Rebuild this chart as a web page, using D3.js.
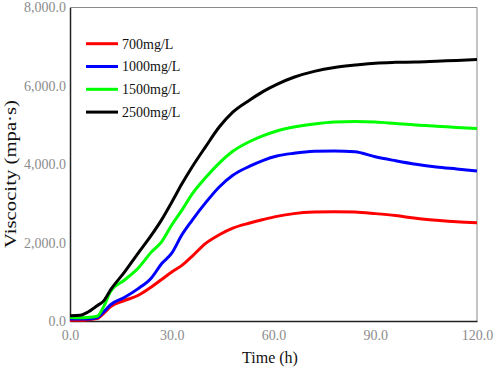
<!DOCTYPE html>
<html>
<head>
<meta charset="utf-8">
<script src="https://cdn.jsdelivr.net/npm/d3@7"></script>
<style>
  body { margin: 0; background: #fff; }
  svg { display: block; }
</style>
</head>
<body>
<svg width="498" height="370"></svg>
<script>
// data
const time = [0, 3, 5, 8, 10, 12, 16, 20, 24, 27, 30, 33, 36, 40, 44, 48, 53, 57, 61, 66, 72, 78, 84, 90, 96, 102, 108, 114, 120];
const c700 = [20, 20, 30, 60, 200, 370, 520, 650, 870, 1060, 1250, 1420, 1650, 1980, 2200, 2370, 2500, 2590, 2670, 2740, 2780, 2790, 2780, 2740, 2690, 2620, 2570, 2530, 2510];
const c1000 = [50, 50, 50, 90, 240, 420, 600, 820, 1100, 1460, 1730, 2200, 2570, 3020, 3420, 3720, 3950, 4100, 4210, 4280, 4330, 4340, 4320, 4190, 4090, 4000, 3930, 3880, 3830];
const c1500 = [90, 85, 90, 120, 380, 760, 1040, 1340, 1760, 2020, 2450, 2830, 3240, 3660, 4030, 4330, 4580, 4730, 4850, 4950, 5030, 5080, 5090, 5080, 5040, 5000, 4970, 4940, 4910];
const c2500 = [135, 145, 215, 390, 520, 800, 1240, 1720, 2190, 2580, 3030, 3500, 3930, 4450, 4950, 5330, 5640, 5860, 6040, 6220, 6370, 6470, 6530, 6580, 6600, 6610, 6630, 6650, 6670];
const seriesNames = ["700mg/L", "1000mg/L", "1500mg/L", "2500mg/L"];
const seriesColors = ["#ff0000", "#0000ff", "#00ff00", "#000000"];
const xTicks = [0, 30, 60, 90, 120];
const yTicks = [0, 2000, 4000, 6000, 8000];

const series = [c700, c1000, c1500, c2500];

const svg = d3.select("svg");
const mLeft = 70, mRight = 477, mTop = 7.5, mBottom = 321;

const x = d3.scaleLinear().domain([0, 120]).range([mLeft, mRight]);
const y = d3.scaleLinear().domain([0, 8000]).range([mBottom, mTop]);

const fmt = d3.format(",.1f");
const serif = '"Liberation Serif"';

// frame: top and right in grey
svg.append("line")
.attr("x1", mLeft).attr("x2", mRight).attr("y1", mTop).attr("y2", mTop)
.attr("stroke", "#8a8a8a").attr("stroke-width", 1);
svg.append("line")
.attr("x1", mRight).attr("x2", mRight).attr("y1", mTop).attr("y2", mBottom)
.attr("stroke", "#8a8a8a").attr("stroke-width", 1);

// axes
const xAxis = svg.append("g")
.attr("transform", `translate(0,${mBottom})`)
.call(d3.axisBottom(x).tickValues(xTicks).tickFormat(fmt).tickSize(0).tickPadding(9));
const yAxis = svg.append("g")
.attr("transform", `translate(${mLeft},0)`)
.call(d3.axisLeft(y).tickValues(yTicks).tickFormat(fmt).tickSize(0).tickPadding(4));

[xAxis, yAxis].forEach(g => {
    g.select(".domain").attr("stroke", "#222").attr("stroke-width", 1.5);
    g.selectAll("text")
    .style("font-family", serif)
    .style("font-size", "14px")
    .attr("fill", "#8c8c8c");
});

// curves
const line = d3.line()
.x((d, i) => x(time[i]))
.y(d => y(d))
.curve(d3.curveMonotoneX);

svg.selectAll(".curve")
.data(series)
.join("path")
.attr("class", "curve")
.attr("d", line)
.attr("fill", "none")
.attr("stroke", (d, i) => seriesColors[i])
.attr("stroke-width", 3)
.attr("stroke-linejoin", "round");

// legend
const legend = svg.selectAll(".legend")
.data(seriesNames)
.join("g")
.attr("class", "legend")
.attr("transform", (d, i) => `translate(86,${43.7 + i * 22.8})`);

legend.append("line")
.attr("x1", 0).attr("x2", 32)
.attr("stroke", (d, i) => seriesColors[i])
.attr("stroke-width", 3);

legend.append("text")
.attr("x", 36)
.attr("dy", "0.35em")
.style("font-family", serif)
.style("font-size", "14px")
.attr("fill", "#111")
.text(d => d);

// axis titles
svg.append("text")
.attr("x", 270)
.attr("y", 363)
.attr("text-anchor", "middle")
.style("font-family", serif)
.style("font-size", "16px")
.attr("fill", "#111")
.text("Time (h)");

// the y title is stretched in the original
svg.append("text")
.attr("transform", "translate(16,174) rotate(-90)")
.attr("x", -74)
.attr("textLength", 148)
.attr("lengthAdjust", "spacingAndGlyphs")
.style("font-family", serif)
.style("font-size", "17px")
.attr("fill", "#111")
.text("Viscocity (mpa·s)");
</script>
</body>
</html>
